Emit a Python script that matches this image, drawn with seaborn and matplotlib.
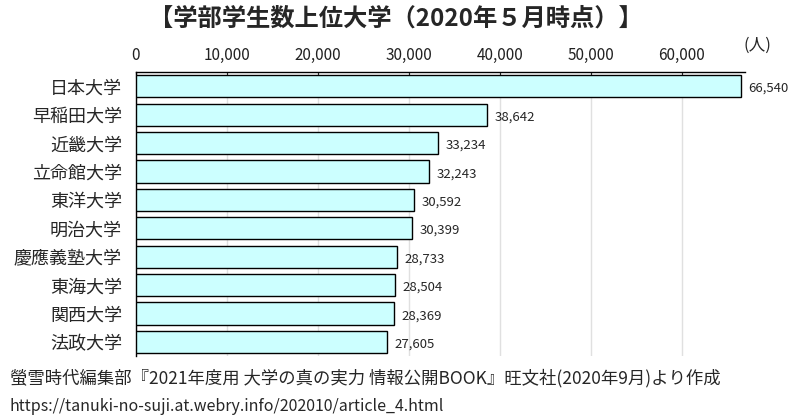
import pandas as pd
import matplotlib.pyplot as plt
import seaborn as sns

# -----------------------------
# DATA
# -----------------------------
universities = ["日本大学", "早稲田大学", "近畿大学", "立命館大学", "東洋大学",
                "明治大学", "慶應義塾大学", "東海大学", "関西大学", "法政大学"]
students = [66540, 38642, 33234, 32243, 30592, 30399, 28733, 28504, 28369, 27605]
x_ticks = [0, 10000, 20000, 30000, 40000, 50000, 60000]

df = pd.DataFrame({"university": universities, "students": students})

# -----------------------------
# STYLE
# -----------------------------
sns.set_style("white")
plt.rcParams["font.family"] = ["Noto Sans CJK JP", "DejaVu Sans"]

fig = plt.figure(figsize=(8.04, 4.17), dpi=100)
ax = fig.add_axes([0.169, 0.146, 0.758, 0.681])

sns.barplot(data=df, x="students", y="university", orient="h",
            color="#ccffff", edgecolor="black", linewidth=1.0,
            width=0.78, saturation=1, ax=ax, zorder=3)

ax.set_xlim(0, 67000)
ax.set_ylim(len(universities) - 0.5, -0.5)
ax.set_xticks(x_ticks)
ax.set_xticklabels([f"{v:,}" for v in x_ticks], fontsize=11, color="#222222")
ax.xaxis.tick_top()
ax.tick_params(axis="x", direction="in", length=4, pad=6, top=True, bottom=False)
ax.set_yticks(range(len(universities)))
ax.set_yticklabels(universities, fontsize=13)
ax.tick_params(axis="y", length=0, pad=10)

# category boundary ticks on left spine
ax.set_yticks([i + 0.5 for i in range(-1, len(universities))], minor=True)
ax.tick_params(axis="y", which="minor", length=5, direction="inout", width=1)

ax.grid(axis="x", color="#e0e0e0", linewidth=1, zorder=0)
ax.set_xlabel("")
ax.set_ylabel("")
for s in ["right", "bottom"]:
    ax.spines[s].set_visible(False)
for s in ["top", "left"]:
    ax.spines[s].set_color("black")
    ax.spines[s].set_linewidth(1)

for i, v in enumerate(students):
    ax.text(v + 800, i + 0.08, f"{v:,}", va="center", ha="left", fontsize=9.5)

ax.text(1.02, 1.095, "(人)", transform=ax.transAxes, ha="center", va="center", fontsize=12)

fig.text(0.493, 0.955, "【学部学生数上位大学（2020年５月時点）】", ha="center", va="center",
         fontsize=17.5, fontweight="bold")
fig.text(0.012, 0.094, "螢雪時代編集部『2021年度用 大学の真の実力 情報公開BOOK』旺文社(2020年9月)より作成",
         ha="left", va="center", fontsize=12.5)
fig.text(0.012, 0.024, "https://tanuki-no-suji.at.webry.info/202010/article_4.html",
         ha="left", va="center", fontsize=11.5)

plt.savefig("out.png", dpi=100)
